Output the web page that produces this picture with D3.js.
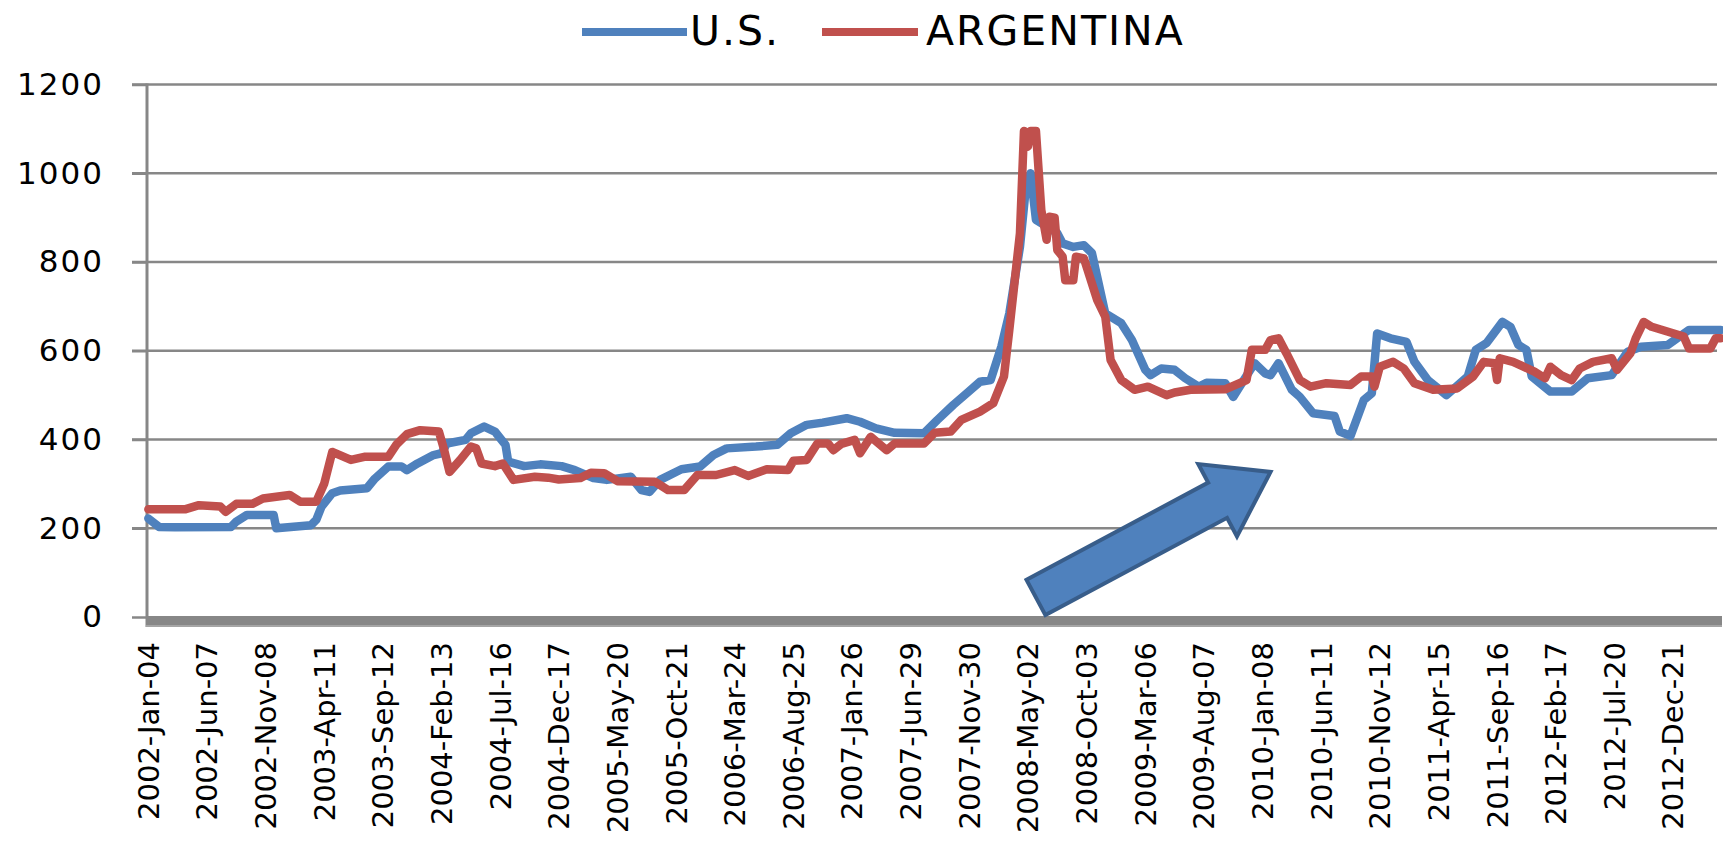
<!DOCTYPE html>
<html>
<head>
<meta charset="utf-8">
<script src="https://cdn.jsdelivr.net/npm/d3@7"></script>
<style>
  body { margin: 0; background: #fff; }
  svg { display: block; }
  text { font-family: 'DejaVu Sans', sans-serif; fill: #000; }
</style>
</head>
<body>
<svg id="chart" width="1723" height="849"></svg>
<script>
// category labels, one every 22 weeks starting at week 0
const weekLabels = [
  '2002-Jan-04', '2002-Jun-07', '2002-Nov-08', '2003-Apr-11', '2003-Sep-12',
  '2004-Feb-13', '2004-Jul-16', '2004-Dec-17', '2005-May-20', '2005-Oct-21',
  '2006-Mar-24', '2006-Aug-25', '2007-Jan-26', '2007-Jun-29', '2007-Nov-30',
  '2008-May-02', '2008-Oct-03', '2009-Mar-06', '2009-Aug-07', '2010-Jan-08',
  '2010-Jun-11', '2010-Nov-12', '2011-Apr-15', '2011-Sep-16', '2012-Feb-17',
  '2012-Jul-20', '2012-Dec-21'
];
const labelStep = 22;
const weekCount = 589;

const yTicks = [0, 200, 400, 600, 800, 1000, 1200];

// [week index, price]
const usPoints = [
  [0, 222], [4, 203], [10, 202], [31, 203], [33, 215], [37, 230], [47, 230], [48, 200],
  [61, 207], [63, 219], [65, 249], [69, 279], [72, 285], [82, 290], [85, 312], [90, 339],
  [95, 339], [97, 331], [101, 346], [107, 365], [110, 369], [112, 391], [119, 399],
  [121, 414], [126, 429], [130, 418], [134, 388], [135, 350], [141, 340], [147, 344],
  [155, 340], [160, 331], [167, 313], [172, 309], [181, 316], [185, 286], [188, 282],
  [192, 309], [200, 333], [207, 339], [212, 365], [217, 380], [228, 384], [236, 388],
  [241, 414], [247, 433], [253, 438], [262, 448], [267, 440], [273, 425], [280, 415],
  [291, 414], [296, 444], [302, 478], [307, 504], [312, 530], [316, 534], [320, 609],
  [323, 684], [327, 834], [329, 955], [331, 1000], [333, 895], [337, 880], [341, 865],
  [343, 842], [347, 834], [351, 838], [354, 820], [359, 684], [365, 662], [369, 624],
  [374, 557], [376, 545], [380, 560], [385, 557], [389, 538], [394, 519], [397, 528],
  [404, 527], [407, 496], [411, 534], [415, 572], [419, 549], [421, 545], [424, 572],
  [429, 512], [432, 496], [437, 459], [445, 453], [447, 418], [451, 408], [456, 489],
  [459, 504], [461, 639], [466, 628], [472, 620], [475, 575], [480, 534], [487, 500],
  [495, 542], [498, 602], [502, 617], [508, 665], [511, 654], [514, 613], [517, 602],
  [519, 542], [526, 508], [534, 508], [540, 538], [549, 545], [555, 598], [560, 609],
  [570, 613], [578, 647], [590, 647]
];

const argentinaPoints = [
  [0, 243], [14, 243], [19, 252], [27, 249], [29, 237], [33, 255], [39, 255], [43, 267],
  [53, 275], [57, 260], [63, 260], [66, 301], [69, 372], [76, 354], [81, 361], [90, 361],
  [93, 388], [97, 412], [102, 421], [109, 418], [111, 376], [113, 327], [117, 354],
  [121, 384], [123, 380], [125, 346], [130, 340], [133, 346], [137, 309], [145, 316],
  [150, 314], [154, 310], [162, 313], [166, 325], [171, 324], [176, 306], [190, 305],
  [195, 286], [201, 286], [206, 320], [213, 320], [220, 331], [225, 318], [232, 333],
  [240, 331], [242, 352], [247, 354], [251, 391], [255, 391], [257, 376], [260, 390],
  [265, 399], [267, 369], [271, 406], [277, 376], [280, 391], [291, 391], [295, 415],
  [301, 418], [305, 444], [312, 463], [317, 482], [321, 542], [323, 647], [327, 865],
  [328.5, 1095], [330, 1060], [331, 1095], [333, 1095], [335, 917], [337, 850],
  [338, 902], [340, 900], [341, 827], [343, 812], [344, 759], [347, 759], [348, 812],
  [351, 808], [356, 714], [359, 677], [361, 579], [365, 534], [370, 512], [375, 519],
  [382, 500], [385, 506], [391, 512], [404, 513], [412, 534], [414, 602], [419, 602],
  [421, 624], [424, 628], [427, 594], [432, 534], [436, 519], [442, 527], [451, 523],
  [455, 542], [459, 542], [460, 519], [462, 564], [467, 575], [471, 560], [475, 527],
  [482, 512], [491, 515], [497, 542], [501, 575], [505, 572], [506, 534], [507, 583],
  [512, 575], [520, 553], [524, 538], [526, 564], [530, 545], [534, 534], [537, 560],
  [542, 575], [549, 583], [551, 557], [556, 594], [558, 628], [561, 665], [564, 654],
  [576, 632], [578, 605], [586, 605], [588, 628], [590, 628]
];

const series = [
  { name: 'U.S.', color: '#4F81BD', points: usPoints },
  { name: 'ARGENTINA', color: '#C0504D', points: argentinaPoints }
];

// annotation arrow, in data units (week, price)
const arrowFrom = [333, 44];
const arrowTo = [421, 327];

const plot = { left: 147, right: 1717, top: 84.5, bottom: 617 };
const band = (plot.right - plot.left) / weekCount;

const x = d3
  .scaleLinear()
  .domain([0, weekCount - 1])
  .range([plot.left + band / 2, plot.right - band / 2]);

const y = d3
  .scaleLinear()
  .domain([0, 1200])
  .range([plot.bottom, plot.top]);

const svg = d3.select('#chart');
const gridColor = '#878787';

const drawGrid = () => {
  svg.append('g')
    .selectAll('line')
    .data(yTicks.filter(t => t > 0))
    .enter()
    .append('line')
    .attr('x1', plot.left - 15)
    .attr('x2', plot.right)
    .attr('y1', d => y(d))
    .attr('y2', d => y(d))
    .attr('stroke', gridColor)
    .attr('stroke-width', 2.5);

  // y axis with labels
  const yAxis = d3
    .axisLeft(y)
    .tickValues(yTicks)
    .tickFormat(d3.format('d'))
    .tickSize(15)
    .tickPadding(28);
  const gy = svg.append('g')
    .attr('transform', `translate(${plot.left}, 0)`)
    .call(yAxis);
  gy.select('.domain').remove();
  gy.selectAll('.tick line').attr('stroke', gridColor).attr('stroke-width', 2.5);
  gy.selectAll('.tick text')
    .attr('fill', '#000')
    .style('font-family', "'DejaVu Sans', sans-serif")
    .style('font-size', '31px')
    .style('letter-spacing', '2px');

  svg.append('line')
    .attr('x1', plot.left)
    .attr('x2', plot.left)
    .attr('y1', plot.top - 1)
    .attr('y2', plot.bottom + 10)
    .attr('stroke', gridColor)
    .attr('stroke-width', 3);
};

const drawXAxis = () => {
  svg.append('rect')
    .attr('x', plot.left - 1)
    .attr('y', plot.bottom - 1)
    .attr('width', 1723 - plot.left)
    .attr('height', 9)
    .attr('fill', gridColor);
  svg.append('rect')
    .attr('x', plot.left - 1)
    .attr('y', plot.bottom + 8)
    .attr('width', 1723 - plot.left)
    .attr('height', 2)
    .attr('fill', '#a5a5a5');

  svg.append('g')
    .selectAll('text')
    .data(weekLabels)
    .enter()
    .append('text')
    .attr('transform', (d, i) => `translate(${x(i * labelStep)}, 642) rotate(-90)`)
    .attr('text-anchor', 'end')
    .attr('dy', '0.36em')
    .style('font-size', '29px')
    .text(d => d);
};

const drawLines = () => {
  const line = d3.line().x(d => x(d[0])).y(d => y(d[1]));
  svg.append('g')
    .selectAll('path')
    .data(series)
    .enter()
    .append('path')
    .attr('d', s => line(s.points))
    .attr('fill', 'none')
    .attr('stroke', s => s.color)
    .attr('stroke-width', 8.5)
    .attr('stroke-linejoin', 'round')
    .attr('stroke-linecap', 'round');
};

const drawLegend = () => {
  const items = [
    { x1: 582, x2: 687, tx: 690 },
    { x1: 822, x2: 918, tx: 926 }
  ];
  const g = svg.append('g').selectAll('g').data(series).enter().append('g');
  g.append('line')
    .attr('x1', (s, i) => items[i].x1)
    .attr('x2', (s, i) => items[i].x2)
    .attr('y1', 32)
    .attr('y2', 32)
    .attr('stroke', s => s.color)
    .attr('stroke-width', 8);
  g.append('text')
    .attr('x', (s, i) => items[i].tx)
    .attr('y', 45)
    .style('font-size', '41px')
    .style('letter-spacing', '2px')
    .text(s => s.name);
};

const drawArrow = () => {
  const [x0, y0] = [x(arrowFrom[0]), y(arrowFrom[1])];
  const [x1, y1] = [x(arrowTo[0]), y(arrowTo[1])];
  const len = Math.hypot(x1 - x0, y1 - y0);
  const angle = (Math.atan2(y1 - y0, x1 - x0) * 180) / Math.PI;
  const shaft = 20, head = 41, headLen = 60;
  const pts = [
    [0, -shaft], [len - headLen, -shaft], [len - headLen, -head], [len, 0],
    [len - headLen, head], [len - headLen, shaft], [0, shaft]
  ];
  svg.append('path')
    .attr('d', d3.line()(pts) + 'Z')
    .attr('transform', `translate(${x0}, ${y0}) rotate(${angle})`)
    .attr('fill', '#4F81BD')
    .attr('stroke', '#385D8A')
    .attr('stroke-width', 4)
    .attr('stroke-linejoin', 'miter');
};

drawGrid();
drawLines();
drawXAxis();
drawLegend();
drawArrow();
</script>
</body>
</html>
